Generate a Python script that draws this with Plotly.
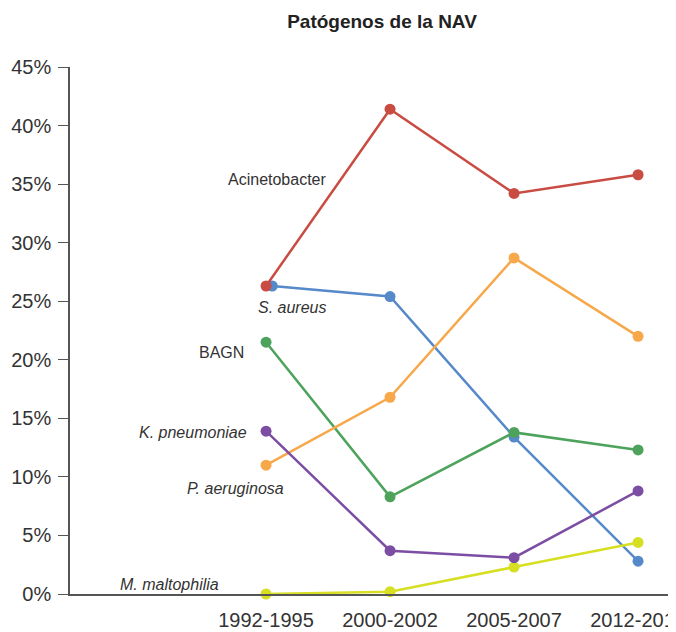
import plotly.graph_objects as go

periods = ["1992-1995", "2000-2002", "2005-2007", "2012-2015"]
period_pos = [0, 1, 2, 3]

acinetobacter = [26.3, 41.4, 34.2, 35.8]
s_aureus = [26.3, 25.4, 13.4, 2.8]
bagn = [21.5, 8.3, 13.8, 12.3]
k_pneumoniae = [13.9, 3.7, 3.1, 8.8]
p_aeruginosa = [11.0, 16.8, 28.7, 22.0]
m_maltophilia = [0.0, 0.2, 2.3, 4.4]

y_ticks = [0, 5, 10, 15, 20, 25, 30, 35, 40, 45]
y_tick_labels = [f"{v}%" for v in y_ticks]

FONT = "Liberation Sans, Arial, Helvetica, sans-serif"
TXT = "#333333"

series = [
    ("S. aureus", s_aureus, "#5589c9", 0.05),
    ("M. maltophilia", m_maltophilia, "#d6df22", 0.0),
    ("BAGN", bagn, "#4ea35c", 0.0),
    ("P. aeruginosa", p_aeruginosa, "#f7a84a", 0.0),
    ("K. pneumoniae", k_pneumoniae, "#7b4ea3", 0.0),
    ("Acinetobacter", acinetobacter, "#c94c43", 0.0),
]

fig = go.Figure()
for name, vals, color, first_shift in series:
    xs = [p + (first_shift if i == 0 else 0) for i, p in enumerate(period_pos)]
    fig.add_trace(go.Scatter(
        x=xs, y=vals, name=name, mode="lines+markers",
        line=dict(color=color, width=2.5),
        marker=dict(color=color, size=11),
        cliponaxis=False, showlegend=False, hoverinfo="x+y+name",
    ))

labels = [
    ("Acinetobacter", 0.508, 35.4, False),
    ("S. aureus", 0.50, 24.45, True),
    ("BAGN", -0.161, 20.6, False),
    ("K. pneumoniae", -0.137, 13.8, True),
    ("P. aeruginosa", 0.159, 9.0, True),
    ("M. maltophilia", -0.363, 0.8, True),
]
for text, lx, ly, italic in labels:
    fig.add_annotation(
        x=lx, y=ly, xref="x", yref="y", text=f"<i>{text}</i>" if italic else text,
        showarrow=False, xanchor="right", yanchor="middle",
        font=dict(family=FONT, size=16, color=TXT),
    )

# the page body adds an 8px margin, so the figure is 8px smaller and shifted
W, H = 668, 624
fig.update_layout(
    width=W, height=H,
    margin=dict(l=62, r=0, t=59, b=38, autoexpand=False),
    paper_bgcolor="white", plot_bgcolor="white",
    font=dict(family=FONT, color=TXT),
    title=dict(text="<b>Patógenos de la NAV</b>", x=374 / W, xanchor="center",
               xref="container", y=1 - 13 / H, yanchor="middle", yref="container",
               font=dict(family=FONT, size=19, color="#222222")),
    xaxis=dict(
        range=[-1.581, 3.306], tickvals=period_pos, ticktext=periods, automargin=False,
        showgrid=False, zeroline=False, showline=True, linecolor="#555555", linewidth=1.5,
        ticks="", ticklabelstandoff=7, ticklabeloverflow="allow",
        tickfont=dict(family=FONT, size=20, color=TXT),
    ),
    yaxis=dict(
        range=[0, 45], tickvals=y_ticks, ticktext=y_tick_labels, automargin=False,
        showgrid=False, zeroline=False, showline=True, linecolor="#555555", linewidth=1.5,
        ticks="outside", ticklen=10, tickwidth=1.2, tickcolor="#555555",
        ticklabelstandoff=3, tickfont=dict(family=FONT, size=20, color=TXT),
    ),
)

fig.write_html("out.html")
